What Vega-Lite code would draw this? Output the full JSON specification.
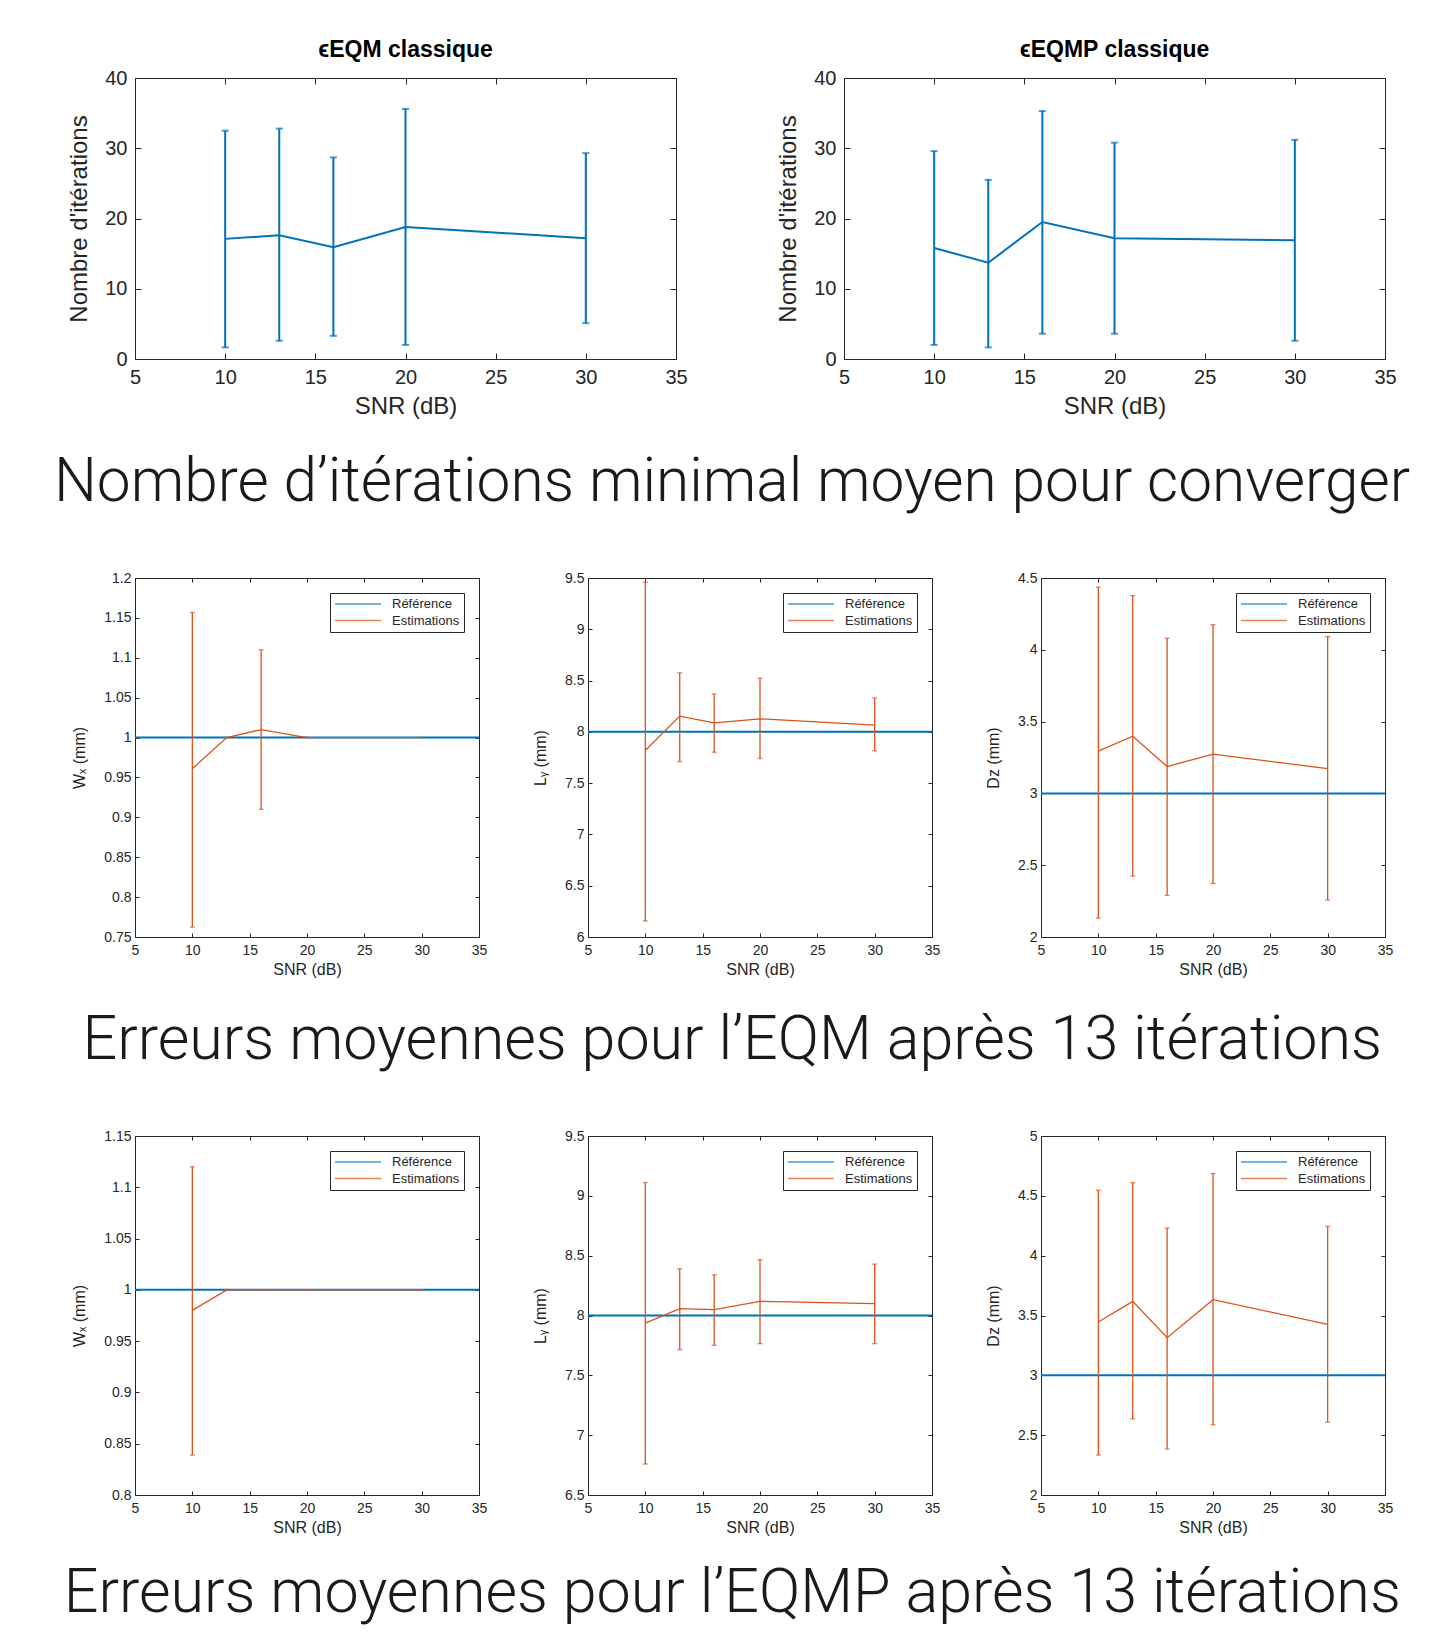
{
  "$schema": "https://vega.github.io/schema/vega-lite/v6.json",
  "background": "white",
  "padding": {"left": 53, "top": 38, "right": 10, "bottom": 24},
  "config": {
    "view": {"stroke": "#262626", "strokeWidth": 1},
    "axis": {"grid": false, "domain": false, "labelFont": "Liberation Sans", "titleFont": "Liberation Sans", "labelColor": "#262626", "titleColor": "#262626", "tickColor": "#262626", "titleFontWeight": "normal", "labelFontSize": 14, "titleFontSize": 16, "tickSize": -4, "labelFlush": false, "labelOverlap": false},
    "axisX": {"labelPadding": 10, "titlePadding": 4},
    "axisY": {"labelPadding": 8, "titlePadding": 16},
    "legend": {"orient": "top-right", "offset": 15, "padding": 4, "strokeColor": "#262626", "fillColor": "white", "labelFont": "Liberation Sans", "labelFontSize": 13, "labelColor": "#262626", "symbolType": "M-1,0H6.67", "symbolSize": 144, "symbolStrokeWidth": 1.5, "symbolFillColor": "transparent", "labelOffset": 44, "rowPadding": 2.6, "cornerRadius": 0}
  },
  "datasets": {
    "iterEQM": [
      {"snr": 10, "moy": 17.1, "bas": 1.65, "haut": 32.5},
      {"snr": 13, "moy": 17.6, "bas": 2.6, "haut": 32.8},
      {"snr": 16, "moy": 15.9, "bas": 3.3, "haut": 28.7},
      {"snr": 20, "moy": 18.8, "bas": 2.0, "haut": 35.6},
      {"snr": 30, "moy": 17.2, "bas": 5.1, "haut": 29.3}
    ],
    "iterEQMP": [
      {"snr": 10, "moy": 15.8, "bas": 2.0, "haut": 29.6},
      {"snr": 13, "moy": 13.7, "bas": 1.65, "haut": 25.5},
      {"snr": 16, "moy": 19.5, "bas": 3.6, "haut": 35.3},
      {"snr": 20, "moy": 17.2, "bas": 3.6, "haut": 30.8},
      {"snr": 30, "moy": 16.9, "bas": 2.6, "haut": 31.2}
    ],
    "wEQM": [
      {"snr": 10, "moy": 0.961, "bas": 0.7625, "haut": 1.157},
      {"snr": 13, "moy": 1.0, "bas": 1.0, "haut": 1.0},
      {"snr": 16, "moy": 1.01, "bas": 0.91, "haut": 1.11},
      {"snr": 20, "moy": 1.0, "bas": 1.0, "haut": 1.0},
      {"snr": 30, "moy": 1.0, "bas": 1.0, "haut": 1.0}
    ],
    "lyEQM": [
      {"snr": 10, "moy": 7.818, "bas": 6.156, "haut": 9.458},
      {"snr": 13, "moy": 8.153, "bas": 7.711, "haut": 8.575},
      {"snr": 16, "moy": 8.088, "bas": 7.802, "haut": 8.37},
      {"snr": 20, "moy": 8.127, "bas": 7.74, "haut": 8.523},
      {"snr": 30, "moy": 8.065, "bas": 7.815, "haut": 8.331}
    ],
    "dzEQM": [
      {"snr": 10, "moy": 3.294, "bas": 2.132, "haut": 4.437},
      {"snr": 13, "moy": 3.398, "bas": 2.424, "haut": 4.377},
      {"snr": 16, "moy": 3.187, "bas": 2.29, "haut": 4.08},
      {"snr": 20, "moy": 3.273, "bas": 2.373, "haut": 4.175},
      {"snr": 30, "moy": 3.173, "bas": 2.257, "haut": 4.092}
    ],
    "wEQMP": [
      {"snr": 10, "moy": 0.98, "bas": 0.839, "haut": 1.12},
      {"snr": 13, "moy": 1.0, "bas": 1.0, "haut": 1.0},
      {"snr": 16, "moy": 1.0, "bas": 1.0, "haut": 1.0},
      {"snr": 20, "moy": 1.0, "bas": 1.0, "haut": 1.0},
      {"snr": 30, "moy": 1.0, "bas": 1.0, "haut": 1.0}
    ],
    "lyEQMP": [
      {"snr": 10, "moy": 7.937, "bas": 6.759, "haut": 9.111},
      {"snr": 13, "moy": 8.057, "bas": 7.715, "haut": 8.39},
      {"snr": 16, "moy": 8.049, "bas": 7.751, "haut": 8.34},
      {"snr": 20, "moy": 8.118, "bas": 7.765, "haut": 8.466},
      {"snr": 30, "moy": 8.099, "bas": 7.765, "haut": 8.429}
    ],
    "dzEQMP": [
      {"snr": 10, "moy": 3.446, "bas": 2.334, "haut": 4.547},
      {"snr": 13, "moy": 3.618, "bas": 2.637, "haut": 4.611},
      {"snr": 16, "moy": 3.315, "bas": 2.384, "haut": 4.23},
      {"snr": 20, "moy": 3.632, "bas": 2.587, "haut": 4.686},
      {"snr": 30, "moy": 3.426, "bas": 2.609, "haut": 4.244}
    ]
  },
  "vconcat": [
    {
      "hconcat": [
        {
          "width": 541, "height": 281,
          "title": {"text": "ϵEQM classique", "font": "Liberation Sans", "fontSize": 23, "fontWeight": "bold", "color": "#000000", "offset": 6},
          "data": {"name": "iterEQM"},
          "layer": [
            {"mark": {"type": "line", "color": "#0072BD", "strokeWidth": 2},
             "encoding": {
               "x": {"field": "snr", "type": "quantitative", "scale": {"domain": [5, 35], "nice": false, "zero": false}, "axis": {"values": [5, 10, 15, 20, 25, 30, 35], "title": "SNR (dB)", "labelFontSize": 20, "titleFontSize": 24, "tickSize": -6, "labelPadding": 14, "titlePadding": 7}},
               "y": {"field": "moy", "type": "quantitative", "scale": {"domain": [0, 40], "nice": false}, "axis": {"values": [0, 10, 20, 30, 40], "title": "Nombre d'itérations", "labelFontSize": 20, "titleFontSize": 24, "tickSize": -6, "labelPadding": 14, "titlePadding": 13}}}},
            {"mark": {"type": "errorbar", "color": "#0072BD", "thickness": 2, "ticks": {"size": 7, "thickness": 2}},
             "encoding": {
               "x": {"field": "snr", "type": "quantitative", "axis": null},
               "y": {"field": "bas", "type": "quantitative", "axis": null},
               "y2": {"field": "haut"}}},
            {"mark": {"type": "point", "opacity": 0},
             "encoding": {
               "x": {"field": "snr", "type": "quantitative", "axis": {"orient": "top", "values": [5, 10, 15, 20, 25, 30, 35], "labels": false, "title": null, "tickSize": -6}},
               "y": {"field": "moy", "type": "quantitative", "axis": {"orient": "right", "values": [0, 10, 20, 30, 40], "labels": false, "title": null, "tickSize": -6}}}}
          ],
          "resolve": {"axis": {"x": "independent", "y": "independent"}}
        },
        {
          "width": 541, "height": 281,
          "title": {"text": "ϵEQMP classique", "font": "Liberation Sans", "fontSize": 23, "fontWeight": "bold", "color": "#000000", "offset": 6},
          "data": {"name": "iterEQMP"},
          "layer": [
            {"mark": {"type": "line", "color": "#0072BD", "strokeWidth": 2},
             "encoding": {
               "x": {"field": "snr", "type": "quantitative", "scale": {"domain": [5, 35], "nice": false, "zero": false}, "axis": {"values": [5, 10, 15, 20, 25, 30, 35], "title": "SNR (dB)", "labelFontSize": 20, "titleFontSize": 24, "tickSize": -6, "labelPadding": 14, "titlePadding": 7}},
               "y": {"field": "moy", "type": "quantitative", "scale": {"domain": [0, 40], "nice": false}, "axis": {"values": [0, 10, 20, 30, 40], "title": "Nombre d'itérations", "labelFontSize": 20, "titleFontSize": 24, "tickSize": -6, "labelPadding": 14, "titlePadding": 13}}}},
            {"mark": {"type": "errorbar", "color": "#0072BD", "thickness": 2, "ticks": {"size": 7, "thickness": 2}},
             "encoding": {
               "x": {"field": "snr", "type": "quantitative", "axis": null},
               "y": {"field": "bas", "type": "quantitative", "axis": null},
               "y2": {"field": "haut"}}},
            {"mark": {"type": "point", "opacity": 0},
             "encoding": {
               "x": {"field": "snr", "type": "quantitative", "axis": {"orient": "top", "values": [5, 10, 15, 20, 25, 30, 35], "labels": false, "title": null, "tickSize": -6}},
               "y": {"field": "moy", "type": "quantitative", "axis": {"orient": "right", "values": [0, 10, 20, 30, 40], "labels": false, "title": null, "tickSize": -6}}}}
          ],
          "resolve": {"axis": {"x": "independent", "y": "independent"}}
        }
      ],
      "spacing": 168,
      "bounds": "flush",
      "title": {"text": "Nombre d’itérations minimal moyen pour converger", "orient": "bottom", "anchor": "middle", "font": "Roboto", "fontWeight": 300, "fontSize": 60.4, "color": "#1a1a1a", "offset": 34}
    },
    {
      "hconcat": [
        {
          "width": 344, "height": 359,
          "data": {"name": "wEQM"},
          "layer": [
            {"data": {"values": [{"ref": 1}]}, "mark": {"type": "rule", "strokeWidth": 2},
             "encoding": {
               "y": {"field": "ref", "type": "quantitative", "scale": {"domain": [0.75, 1.2], "nice": false, "zero": false}, "axis": null},
               "color": {"datum": "Référence", "type": "nominal", "scale": {"domain": ["Référence", "Estimations"], "range": ["#0072BD", "#D95319"]}, "legend": {"title": null}}}},
            {"mark": {"type": "line", "strokeWidth": 1.3},
             "encoding": {
               "x": {"field": "snr", "type": "quantitative", "scale": {"domain": [5, 35], "nice": false, "zero": false}, "axis": {"values": [5, 10, 15, 20, 25, 30, 35], "title": "SNR (dB)"}},
               "y": {"field": "moy", "type": "quantitative", "scale": {"domain": [0.75, 1.2], "nice": false, "zero": false}, "axis": {"values": [0.75, 0.8, 0.85, 0.9, 0.95, 1, 1.05, 1.1, 1.15, 1.2], "format": "~g", "title": "Wₓ (mm)"}},
               "color": {"datum": "Estimations", "type": "nominal"}}},
            {"mark": {"type": "errorbar", "thickness": 1.3, "ticks": {"size": 5, "thickness": 1.3}},
             "encoding": {
               "x": {"field": "snr", "type": "quantitative", "axis": null},
               "y": {"field": "bas", "type": "quantitative", "axis": null},
               "y2": {"field": "haut"},
               "color": {"datum": "Estimations", "type": "nominal"}}},
            {"mark": {"type": "point", "opacity": 0},
             "encoding": {
               "x": {"field": "snr", "type": "quantitative", "axis": {"orient": "top", "values": [5, 10, 15, 20, 25, 30, 35], "labels": false, "title": null}},
               "y": {"field": "moy", "type": "quantitative", "axis": {"orient": "right", "values": [0.75, 0.8, 0.85, 0.9, 0.95, 1, 1.05, 1.1, 1.15, 1.2], "labels": false, "title": null}}}}
          ],
          "resolve": {"axis": {"x": "independent", "y": "independent"}}
        },
        {
          "width": 344, "height": 359,
          "data": {"name": "lyEQM"},
          "layer": [
            {"data": {"values": [{"ref": 8}]}, "mark": {"type": "rule", "strokeWidth": 2},
             "encoding": {
               "y": {"field": "ref", "type": "quantitative", "scale": {"domain": [6, 9.5], "nice": false, "zero": false}, "axis": null},
               "color": {"datum": "Référence", "type": "nominal", "scale": {"domain": ["Référence", "Estimations"], "range": ["#0072BD", "#D95319"]}, "legend": {"title": null}}}},
            {"mark": {"type": "line", "strokeWidth": 1.3},
             "encoding": {
               "x": {"field": "snr", "type": "quantitative", "scale": {"domain": [5, 35], "nice": false, "zero": false}, "axis": {"values": [5, 10, 15, 20, 25, 30, 35], "title": "SNR (dB)"}},
               "y": {"field": "moy", "type": "quantitative", "scale": {"domain": [6, 9.5], "nice": false, "zero": false}, "axis": {"values": [6, 6.5, 7, 7.5, 8, 8.5, 9, 9.5], "format": "~g", "title": "Lᵧ (mm)"}},
               "color": {"datum": "Estimations", "type": "nominal"}}},
            {"mark": {"type": "errorbar", "thickness": 1.3, "ticks": {"size": 5, "thickness": 1.3}},
             "encoding": {
               "x": {"field": "snr", "type": "quantitative", "axis": null},
               "y": {"field": "bas", "type": "quantitative", "axis": null},
               "y2": {"field": "haut"},
               "color": {"datum": "Estimations", "type": "nominal"}}},
            {"mark": {"type": "point", "opacity": 0},
             "encoding": {
               "x": {"field": "snr", "type": "quantitative", "axis": {"orient": "top", "values": [5, 10, 15, 20, 25, 30, 35], "labels": false, "title": null}},
               "y": {"field": "moy", "type": "quantitative", "axis": {"orient": "right", "values": [6, 6.5, 7, 7.5, 8, 8.5, 9, 9.5], "labels": false, "title": null}}}}
          ],
          "resolve": {"axis": {"x": "independent", "y": "independent"}}
        },
        {
          "width": 344, "height": 359,
          "data": {"name": "dzEQM"},
          "layer": [
            {"data": {"values": [{"ref": 3}]}, "mark": {"type": "rule", "strokeWidth": 2},
             "encoding": {
               "y": {"field": "ref", "type": "quantitative", "scale": {"domain": [2, 4.5], "nice": false, "zero": false}, "axis": null},
               "color": {"datum": "Référence", "type": "nominal", "scale": {"domain": ["Référence", "Estimations"], "range": ["#0072BD", "#D95319"]}, "legend": {"title": null}}}},
            {"mark": {"type": "line", "strokeWidth": 1.3},
             "encoding": {
               "x": {"field": "snr", "type": "quantitative", "scale": {"domain": [5, 35], "nice": false, "zero": false}, "axis": {"values": [5, 10, 15, 20, 25, 30, 35], "title": "SNR (dB)"}},
               "y": {"field": "moy", "type": "quantitative", "scale": {"domain": [2, 4.5], "nice": false, "zero": false}, "axis": {"values": [2, 2.5, 3, 3.5, 4, 4.5], "format": "~g", "title": "Dz (mm)"}},
               "color": {"datum": "Estimations", "type": "nominal"}}},
            {"mark": {"type": "errorbar", "thickness": 1.3, "ticks": {"size": 5, "thickness": 1.3}},
             "encoding": {
               "x": {"field": "snr", "type": "quantitative", "axis": null},
               "y": {"field": "bas", "type": "quantitative", "axis": null},
               "y2": {"field": "haut"},
               "color": {"datum": "Estimations", "type": "nominal"}}},
            {"mark": {"type": "point", "opacity": 0},
             "encoding": {
               "x": {"field": "snr", "type": "quantitative", "axis": {"orient": "top", "values": [5, 10, 15, 20, 25, 30, 35], "labels": false, "title": null}},
               "y": {"field": "moy", "type": "quantitative", "axis": {"orient": "right", "values": [2, 2.5, 3, 3.5, 4, 4.5], "labels": false, "title": null}}}}
          ],
          "resolve": {"axis": {"x": "independent", "y": "independent"}}
        }
      ],
      "spacing": 109,
      "bounds": "flush",
      "resolve": {"scale": {"color": "independent"}, "legend": {"color": "independent"}},
      "title": {"text": "Erreurs moyennes pour l’EQM après 13 itérations", "orient": "bottom", "anchor": "middle", "font": "Roboto", "fontWeight": 300, "fontSize": 61, "color": "#1a1a1a", "offset": 33}
    },
    {
      "hconcat": [
        {
          "width": 344, "height": 359,
          "data": {"name": "wEQMP"},
          "layer": [
            {"data": {"values": [{"ref": 1}]}, "mark": {"type": "rule", "strokeWidth": 2},
             "encoding": {
               "y": {"field": "ref", "type": "quantitative", "scale": {"domain": [0.8, 1.15], "nice": false, "zero": false}, "axis": null},
               "color": {"datum": "Référence", "type": "nominal", "scale": {"domain": ["Référence", "Estimations"], "range": ["#0072BD", "#D95319"]}, "legend": {"title": null}}}},
            {"mark": {"type": "line", "strokeWidth": 1.3},
             "encoding": {
               "x": {"field": "snr", "type": "quantitative", "scale": {"domain": [5, 35], "nice": false, "zero": false}, "axis": {"values": [5, 10, 15, 20, 25, 30, 35], "title": "SNR (dB)"}},
               "y": {"field": "moy", "type": "quantitative", "scale": {"domain": [0.8, 1.15], "nice": false, "zero": false}, "axis": {"values": [0.8, 0.85, 0.9, 0.95, 1, 1.05, 1.1, 1.15], "format": "~g", "title": "Wₓ (mm)"}},
               "color": {"datum": "Estimations", "type": "nominal"}}},
            {"mark": {"type": "errorbar", "thickness": 1.3, "ticks": {"size": 5, "thickness": 1.3}},
             "encoding": {
               "x": {"field": "snr", "type": "quantitative", "axis": null},
               "y": {"field": "bas", "type": "quantitative", "axis": null},
               "y2": {"field": "haut"},
               "color": {"datum": "Estimations", "type": "nominal"}}},
            {"mark": {"type": "point", "opacity": 0},
             "encoding": {
               "x": {"field": "snr", "type": "quantitative", "axis": {"orient": "top", "values": [5, 10, 15, 20, 25, 30, 35], "labels": false, "title": null}},
               "y": {"field": "moy", "type": "quantitative", "axis": {"orient": "right", "values": [0.8, 0.85, 0.9, 0.95, 1, 1.05, 1.1, 1.15], "labels": false, "title": null}}}}
          ],
          "resolve": {"axis": {"x": "independent", "y": "independent"}}
        },
        {
          "width": 344, "height": 359,
          "data": {"name": "lyEQMP"},
          "layer": [
            {"data": {"values": [{"ref": 8}]}, "mark": {"type": "rule", "strokeWidth": 2},
             "encoding": {
               "y": {"field": "ref", "type": "quantitative", "scale": {"domain": [6.5, 9.5], "nice": false, "zero": false}, "axis": null},
               "color": {"datum": "Référence", "type": "nominal", "scale": {"domain": ["Référence", "Estimations"], "range": ["#0072BD", "#D95319"]}, "legend": {"title": null}}}},
            {"mark": {"type": "line", "strokeWidth": 1.3},
             "encoding": {
               "x": {"field": "snr", "type": "quantitative", "scale": {"domain": [5, 35], "nice": false, "zero": false}, "axis": {"values": [5, 10, 15, 20, 25, 30, 35], "title": "SNR (dB)"}},
               "y": {"field": "moy", "type": "quantitative", "scale": {"domain": [6.5, 9.5], "nice": false, "zero": false}, "axis": {"values": [6.5, 7, 7.5, 8, 8.5, 9, 9.5], "format": "~g", "title": "Lᵧ (mm)"}},
               "color": {"datum": "Estimations", "type": "nominal"}}},
            {"mark": {"type": "errorbar", "thickness": 1.3, "ticks": {"size": 5, "thickness": 1.3}},
             "encoding": {
               "x": {"field": "snr", "type": "quantitative", "axis": null},
               "y": {"field": "bas", "type": "quantitative", "axis": null},
               "y2": {"field": "haut"},
               "color": {"datum": "Estimations", "type": "nominal"}}},
            {"mark": {"type": "point", "opacity": 0},
             "encoding": {
               "x": {"field": "snr", "type": "quantitative", "axis": {"orient": "top", "values": [5, 10, 15, 20, 25, 30, 35], "labels": false, "title": null}},
               "y": {"field": "moy", "type": "quantitative", "axis": {"orient": "right", "values": [6.5, 7, 7.5, 8, 8.5, 9, 9.5], "labels": false, "title": null}}}}
          ],
          "resolve": {"axis": {"x": "independent", "y": "independent"}}
        },
        {
          "width": 344, "height": 359,
          "data": {"name": "dzEQMP"},
          "layer": [
            {"data": {"values": [{"ref": 3}]}, "mark": {"type": "rule", "strokeWidth": 2},
             "encoding": {
               "y": {"field": "ref", "type": "quantitative", "scale": {"domain": [2, 5], "nice": false, "zero": false}, "axis": null},
               "color": {"datum": "Référence", "type": "nominal", "scale": {"domain": ["Référence", "Estimations"], "range": ["#0072BD", "#D95319"]}, "legend": {"title": null}}}},
            {"mark": {"type": "line", "strokeWidth": 1.3},
             "encoding": {
               "x": {"field": "snr", "type": "quantitative", "scale": {"domain": [5, 35], "nice": false, "zero": false}, "axis": {"values": [5, 10, 15, 20, 25, 30, 35], "title": "SNR (dB)"}},
               "y": {"field": "moy", "type": "quantitative", "scale": {"domain": [2, 5], "nice": false, "zero": false}, "axis": {"values": [2, 2.5, 3, 3.5, 4, 4.5, 5], "format": "~g", "title": "Dz (mm)"}},
               "color": {"datum": "Estimations", "type": "nominal"}}},
            {"mark": {"type": "errorbar", "thickness": 1.3, "ticks": {"size": 5, "thickness": 1.3}},
             "encoding": {
               "x": {"field": "snr", "type": "quantitative", "axis": null},
               "y": {"field": "bas", "type": "quantitative", "axis": null},
               "y2": {"field": "haut"},
               "color": {"datum": "Estimations", "type": "nominal"}}},
            {"mark": {"type": "point", "opacity": 0},
             "encoding": {
               "x": {"field": "snr", "type": "quantitative", "axis": {"orient": "top", "values": [5, 10, 15, 20, 25, 30, 35], "labels": false, "title": null}},
               "y": {"field": "moy", "type": "quantitative", "axis": {"orient": "right", "values": [2, 2.5, 3, 3.5, 4, 4.5, 5], "labels": false, "title": null}}}}
          ],
          "resolve": {"axis": {"x": "independent", "y": "independent"}}
        }
      ],
      "spacing": 109,
      "bounds": "flush",
      "resolve": {"scale": {"color": "independent"}, "legend": {"color": "independent"}},
      "title": {"text": "Erreurs moyennes pour l’EQMP après 13 itérations", "orient": "bottom", "anchor": "middle", "font": "Roboto", "fontWeight": 300, "fontSize": 61, "color": "#1a1a1a", "offset": 28}
    }
  ],
  "spacing": 57,
  "center": false,
  "resolve": {"scale": {"color": "independent"}, "legend": {"color": "independent"}}
}
